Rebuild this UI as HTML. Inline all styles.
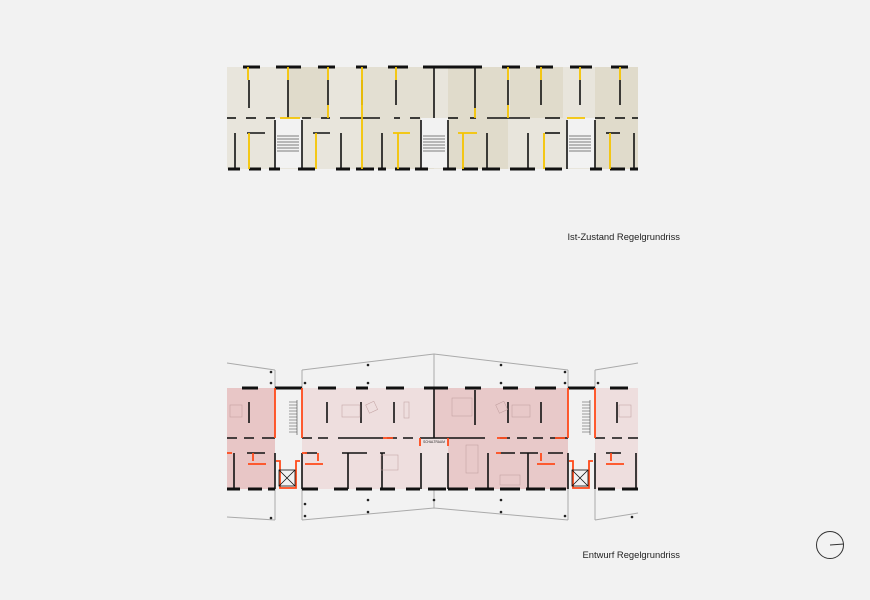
<!DOCTYPE html>
<html><head><meta charset="utf-8"><style>
html,body{margin:0;padding:0;background:#f2f2f2;}
svg{display:block;}
text{font-family:"Liberation Sans",sans-serif;}
</style></head><body>
<svg width="870" height="600" viewBox="0 0 870 600" xmlns="http://www.w3.org/2000/svg">
<rect width="870" height="600" fill="#f2f2f2"/>
<!-- TOP PLAN -->
<g>
<rect x="227" y="67" width="411" height="102" fill="#e8e5dc"/>
<rect x="288" y="67" width="40" height="51" fill="#e0dbcb"/>
<rect x="362" y="67" width="72" height="102" fill="#e3dfd2"/>
<rect x="448" y="67" width="60" height="102" fill="#e0dbcb"/>
<rect x="510" y="67" width="53" height="51" fill="#e0dbcb"/>
<rect x="595" y="67" width="43" height="102" fill="#e0dbcb"/>
<rect x="275" y="118" width="27" height="50" fill="#f2f2f2"/>
<rect x="421" y="118" width="27" height="50" fill="#f2f2f2"/>
<rect x="567" y="118" width="28" height="50" fill="#f2f2f2"/>
<g stroke="#111" stroke-width="3">
<line x1="243" y1="67" x2="260" y2="67"/><line x1="276" y1="67" x2="301" y2="67"/><line x1="318" y1="67" x2="335" y2="67"/><line x1="356" y1="67" x2="367" y2="67"/><line x1="388" y1="67" x2="408" y2="67"/><line x1="423" y1="67" x2="465" y2="67"/><line x1="465" y1="67" x2="482" y2="67"/><line x1="502" y1="67" x2="520" y2="67"/><line x1="536" y1="67" x2="553" y2="67"/><line x1="570" y1="67" x2="592" y2="67"/><line x1="611" y1="67" x2="628" y2="67"/>
<line x1="228" y1="169" x2="240" y2="169"/><line x1="249" y1="169" x2="261" y2="169"/><line x1="269" y1="169" x2="280" y2="169"/><line x1="298" y1="169" x2="315" y2="169"/><line x1="336" y1="169" x2="350" y2="169"/><line x1="356" y1="169" x2="374" y2="169"/><line x1="378" y1="169" x2="386" y2="169"/><line x1="395" y1="169" x2="410" y2="169"/><line x1="415" y1="169" x2="428" y2="169"/><line x1="443" y1="169" x2="456" y2="169"/><line x1="462" y1="169" x2="478" y2="169"/><line x1="482" y1="169" x2="500" y2="169"/><line x1="510" y1="169" x2="535" y2="169"/><line x1="545" y1="169" x2="562" y2="169"/><line x1="590" y1="169" x2="602" y2="169"/><line x1="610" y1="169" x2="625" y2="169"/><line x1="630" y1="169" x2="638" y2="169"/>
</g>
<g stroke="#111" stroke-width="1.6">
<line x1="249" y1="80" x2="249" y2="108"/><line x1="288" y1="80" x2="288" y2="118"/><line x1="328" y1="80" x2="328" y2="105"/><line x1="362" y1="80" x2="362" y2="105"/><line x1="396" y1="80" x2="396" y2="105"/><line x1="434" y1="67" x2="434" y2="118"/><line x1="475" y1="67" x2="475" y2="108"/><line x1="508" y1="80" x2="508" y2="105"/><line x1="541" y1="80" x2="541" y2="105"/><line x1="580" y1="80" x2="580" y2="105"/><line x1="620" y1="80" x2="620" y2="105"/>
<line x1="227" y1="118" x2="236" y2="118"/><line x1="246" y1="118" x2="256" y2="118"/><line x1="266" y1="118" x2="275" y2="118"/><line x1="302" y1="118" x2="311" y2="118"/><line x1="321" y1="118" x2="330" y2="118"/><line x1="340" y1="118" x2="380" y2="118"/><line x1="394" y1="118" x2="400" y2="118"/><line x1="410" y1="118" x2="420" y2="118"/><line x1="448" y1="118" x2="458" y2="118"/><line x1="470" y1="118" x2="476" y2="118"/><line x1="487" y1="118" x2="530" y2="118"/><line x1="545" y1="118" x2="560" y2="118"/><line x1="595" y1="118" x2="605" y2="118"/><line x1="615" y1="118" x2="625" y2="118"/><line x1="632" y1="118" x2="638" y2="118"/>
<line x1="235" y1="133" x2="235" y2="169"/><line x1="247" y1="133" x2="265" y2="133"/><line x1="275" y1="120" x2="275" y2="169"/><line x1="302" y1="120" x2="302" y2="169"/><line x1="313" y1="133" x2="330" y2="133"/><line x1="341" y1="133" x2="341" y2="169"/><line x1="382" y1="133" x2="382" y2="169"/><line x1="421" y1="120" x2="421" y2="169"/><line x1="448" y1="120" x2="448" y2="169"/><line x1="487" y1="133" x2="487" y2="169"/><line x1="528" y1="133" x2="528" y2="169"/><line x1="545" y1="133" x2="560" y2="133"/><line x1="567" y1="120" x2="567" y2="169"/><line x1="595" y1="120" x2="595" y2="169"/><line x1="606" y1="133" x2="620" y2="133"/><line x1="634" y1="133" x2="634" y2="169"/>
</g>
<g stroke="#f5c400" stroke-width="1.8">
<line x1="248" y1="67" x2="248" y2="80"/><line x1="288" y1="67" x2="288" y2="80"/><line x1="328" y1="67" x2="328" y2="80"/><line x1="328" y1="105" x2="328" y2="118"/><line x1="362" y1="67" x2="362" y2="169"/><line x1="396" y1="67" x2="396" y2="80"/><line x1="508" y1="67" x2="508" y2="80"/><line x1="508" y1="105" x2="508" y2="118"/><line x1="475" y1="108" x2="475" y2="118"/><line x1="541" y1="67" x2="541" y2="80"/><line x1="580" y1="67" x2="580" y2="80"/><line x1="620" y1="67" x2="620" y2="80"/><line x1="249" y1="133" x2="249" y2="169"/><line x1="316" y1="133" x2="316" y2="169"/><line x1="398" y1="133" x2="398" y2="169"/><line x1="393" y1="133" x2="410" y2="133"/><line x1="463" y1="133" x2="463" y2="169"/><line x1="458" y1="133" x2="477" y2="133"/><line x1="544" y1="133" x2="544" y2="169"/><line x1="610" y1="133" x2="610" y2="169"/><line x1="280" y1="118" x2="300" y2="118"/><line x1="567" y1="118" x2="585" y2="118"/>
</g>
<g stroke="#555" stroke-width="0.7">
<path d="M277 136h22M277 139h22M277 142h22M277 145h22M277 148h22M277 151h22M423 136h22M423 139h22M423 142h22M423 145h22M423 148h22M423 151h22M569 136h22M569 139h22M569 142h22M569 145h22M569 148h22M569 151h22"/>
</g>
</g>
<text x="680" y="240" font-size="9.4" fill="#222" text-anchor="end">Ist-Zustand Regelgrundriss</text>
<!-- BOTTOM PLAN -->
<g>
<rect x="227" y="388" width="48" height="101" fill="#e8c6c6"/>
<rect x="302" y="388" width="132" height="101" fill="#eedede"/>
<rect x="434" y="388" width="134" height="101" fill="#e8c9c9"/>
<rect x="421" y="438" width="27" height="51" fill="#efe3e3"/>
<rect x="595" y="388" width="43" height="101" fill="#eedede"/>
<rect x="275" y="388" width="27" height="101" fill="#f2f2f2"/>
<rect x="568" y="388" width="27" height="101" fill="#f2f2f2"/>
<g fill="none" stroke="#aaa" stroke-width="1">
<polyline points="227,363 275,370"/><polyline points="302,370 434,354 568,370"/><polyline points="595,370 638,363"/>
<polyline points="227,517 275,520"/><polyline points="302,520 434,508 568,520"/><polyline points="595,520 638,513"/>
<line x1="275" y1="370" x2="275" y2="388"/><line x1="302" y1="370" x2="302" y2="388"/><line x1="568" y1="370" x2="568" y2="388"/><line x1="595" y1="370" x2="595" y2="388"/><line x1="434" y1="354" x2="434" y2="388"/>
<line x1="275" y1="489" x2="275" y2="520"/><line x1="302" y1="489" x2="302" y2="520"/><line x1="568" y1="489" x2="568" y2="520"/><line x1="595" y1="489" x2="595" y2="520"/><line x1="434" y1="489" x2="434" y2="508"/>
</g>
<g fill="#222">
<circle cx="271" cy="372" r="1.3"/><circle cx="305" cy="383" r="1.3"/><circle cx="368" cy="365" r="1.3"/><circle cx="368" cy="383" r="1.3"/><circle cx="501" cy="365" r="1.3"/><circle cx="501" cy="383" r="1.3"/><circle cx="565" cy="372" r="1.3"/><circle cx="598" cy="383" r="1.3"/><circle cx="271" cy="383" r="1.3"/><circle cx="565" cy="383" r="1.3"/>
<circle cx="305" cy="516" r="1.3"/><circle cx="368" cy="512" r="1.3"/><circle cx="501" cy="512" r="1.3"/><circle cx="565" cy="516" r="1.3"/><circle cx="271" cy="518" r="1.3"/><circle cx="632" cy="517" r="1.3"/><circle cx="305" cy="504" r="1.3"/><circle cx="368" cy="500" r="1.3"/><circle cx="501" cy="500" r="1.3"/><circle cx="434" cy="500" r="1.3"/>
</g>
<g stroke="#111" stroke-width="3">
<line x1="242" y1="388" x2="258" y2="388"/><line x1="275" y1="388" x2="302" y2="388"/><line x1="318" y1="388" x2="336" y2="388"/><line x1="356" y1="388" x2="368" y2="388"/><line x1="386" y1="388" x2="404" y2="388"/><line x1="424" y1="388" x2="448" y2="388"/><line x1="465" y1="388" x2="481" y2="388"/><line x1="503" y1="388" x2="518" y2="388"/><line x1="535" y1="388" x2="556" y2="388"/><line x1="568" y1="388" x2="595" y2="388"/><line x1="610" y1="388" x2="628" y2="388"/>
<line x1="227" y1="489" x2="240" y2="489"/><line x1="248" y1="489" x2="262" y2="489"/><line x1="268" y1="489" x2="275" y2="489"/><line x1="302" y1="489" x2="318" y2="489"/><line x1="334" y1="489" x2="348" y2="489"/><line x1="356" y1="489" x2="372" y2="489"/><line x1="380" y1="489" x2="395" y2="489"/><line x1="406" y1="489" x2="420" y2="489"/><line x1="428" y1="489" x2="446" y2="489"/><line x1="448" y1="489" x2="468" y2="489"/><line x1="475" y1="489" x2="494" y2="489"/><line x1="500" y1="489" x2="520" y2="489"/><line x1="526" y1="489" x2="545" y2="489"/><line x1="550" y1="489" x2="566" y2="489"/><line x1="598" y1="489" x2="615" y2="489"/><line x1="622" y1="489" x2="638" y2="489"/>
</g>
<g stroke="#111" stroke-width="1.6">
<line x1="249" y1="402" x2="249" y2="423"/><line x1="327" y1="402" x2="327" y2="423"/><line x1="361" y1="402" x2="361" y2="423"/><line x1="394" y1="402" x2="394" y2="423"/><line x1="434" y1="388" x2="434" y2="438"/><line x1="475" y1="390" x2="475" y2="425"/><line x1="508" y1="402" x2="508" y2="423"/><line x1="541" y1="402" x2="541" y2="423"/><line x1="617" y1="402" x2="617" y2="423"/>
<path d="M227 438h10M244 438h10M262 438h13M302 438h10M318 438h10M338 438h45M387 438h10M403 438h10M420 438h65M500 438h10M517 438h10M533 438h10M550 438h18M595 438h10M612 438h10M628 438h10"/>
<line x1="348" y1="453" x2="348" y2="489"/><line x1="382" y1="453" x2="382" y2="489"/><line x1="421" y1="453" x2="421" y2="489"/><line x1="448" y1="453" x2="448" y2="489"/><line x1="488" y1="453" x2="488" y2="489"/><line x1="528" y1="453" x2="528" y2="489"/><line x1="234" y1="453" x2="234" y2="489"/><line x1="636" y1="453" x2="636" y2="489"/>
<path d="M247 453h18M305 453h12M342 453h25M380 453h5M500 453h15M520 453h18M548 453h15M606 453h15"/>
<line x1="275" y1="453" x2="275" y2="489"/><line x1="302" y1="453" x2="302" y2="489"/><line x1="568" y1="453" x2="568" y2="489"/><line x1="595" y1="453" x2="595" y2="489"/>
</g>
<g stroke="#ff4a1a" stroke-width="1.8" fill="none">
<line x1="275" y1="388" x2="275" y2="438"/><line x1="302" y1="388" x2="302" y2="438"/><line x1="568" y1="388" x2="568" y2="438"/><line x1="595" y1="388" x2="595" y2="438"/>
<path d="M227 453h5M253 453v8M248 464h18M302 453h5M318 453v8M305 464h18M501 453h-5M541 453v8M537 464h18M611 453v8M606 464h18M276 461h4v27h16v-27h4M569 461h4v27h16v-27h4"/>
<path d="M383 438h10M497 438h10M555 438h10M420 438v8M448 438v8"/>
</g>
<g stroke="#111" stroke-width="0.8" fill="none">
<rect x="279" y="470" width="16" height="16"/><path d="M279 470l16 16M295 470l-16 16"/>
<rect x="572" y="470" width="16" height="16"/><path d="M572 470l16 16M588 470l-16 16"/>
</g>
<g stroke="#444" stroke-width="0.6">
<path d="M289 402h8M289 405h8M289 408h8M289 411h8M289 414h8M289 417h8M289 420h8M289 423h8M289 426h8M289 429h8M289 432h8M582 402h8M582 405h8M582 408h8M582 411h8M582 414h8M582 417h8M582 420h8M582 423h8M582 426h8M582 429h8M582 432h8"/>
<path d="M297 400v35M590 400v35"/>
</g>
<g stroke="#b99" stroke-width="0.6" fill="none" opacity="0.8">
<rect x="342" y="405" width="18" height="12"/><rect x="367" y="403" width="9" height="9" transform="rotate(-25 371 407)"/><rect x="404" y="402" width="5" height="16"/>
<rect x="452" y="398" width="20" height="18"/><rect x="497" y="403" width="9" height="9" transform="rotate(-25 501 407)"/><rect x="512" y="405" width="18" height="12"/>
<rect x="381" y="455" width="17" height="15"/><rect x="466" y="445" width="12" height="28"/><rect x="500" y="475" width="20" height="10"/>
<rect x="230" y="405" width="12" height="12"/><rect x="619" y="405" width="12" height="12"/>
</g>
<text x="434" y="443" font-size="3.2" fill="#222" text-anchor="middle">SCHALTRAUM</text>
</g>
<text x="680" y="558" font-size="9.4" fill="#222" text-anchor="end">Entwurf Regelgrundriss</text>
<circle cx="830" cy="545" r="13.5" fill="none" stroke="#333" stroke-width="1"/>
<line x1="830" y1="545" x2="844" y2="544" stroke="#333" stroke-width="1"/>
</svg>
</body></html>
